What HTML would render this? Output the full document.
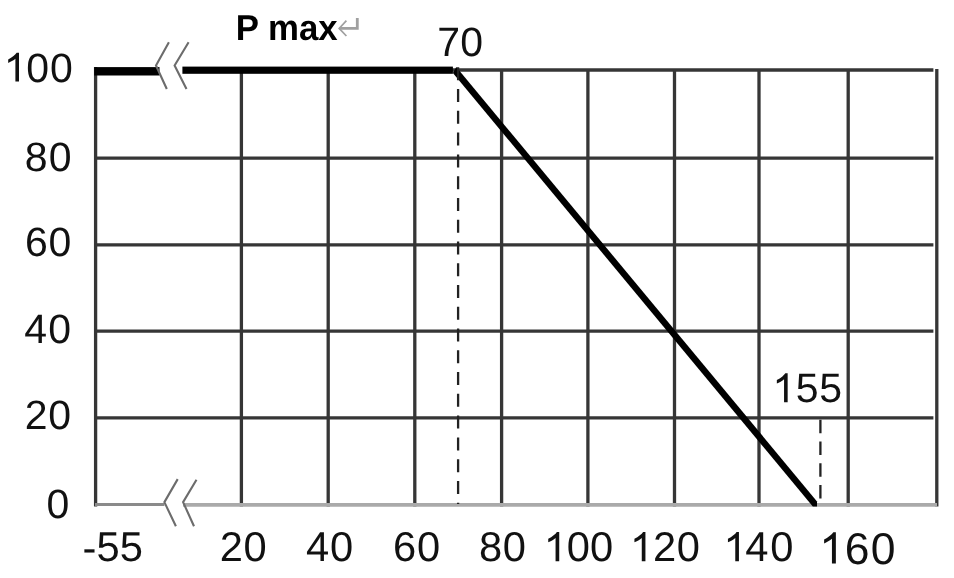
<!DOCTYPE html>
<html><head><meta charset="utf-8">
<style>
html,body{margin:0;padding:0;background:#fff;width:954px;height:578px;overflow:hidden}
svg{display:block;will-change:transform}
text{font-family:"Liberation Sans",sans-serif}
</style></head><body>
<svg width="954" height="578" viewBox="0 0 954 578">
<rect width="954" height="578" fill="#fff"/>
<g>
<g stroke="#363636" stroke-width="3.3" fill="none">
  <line x1="452" y1="70" x2="933.4" y2="70"/>
  <line x1="95" y1="158.2" x2="933.4" y2="158.2"/>
  <line x1="95" y1="244.9" x2="933.4" y2="244.9"/>
  <line x1="95" y1="331.1" x2="933.4" y2="331.1"/>
  <line x1="95" y1="417.9" x2="933.4" y2="417.9"/>
  <line x1="95.6" y1="67" x2="95.6" y2="506.6"/>
  <line x1="241.4" y1="70" x2="241.4" y2="506.6"/>
  <line x1="328.2" y1="70" x2="328.2" y2="506.6"/>
  <line x1="414.8" y1="70" x2="414.8" y2="506.6"/>
  <line x1="501.6" y1="70" x2="501.6" y2="506.6"/>
  <line x1="587.9" y1="70" x2="587.9" y2="506.6"/>
  <line x1="674.5" y1="70" x2="674.5" y2="506.6"/>
  <line x1="759.0" y1="70" x2="759.0" y2="506.6"/>
  <line x1="848.2" y1="70" x2="848.2" y2="506.6"/>
  <line x1="936.8" y1="69" x2="936.8" y2="506.6"/>
</g>
<line x1="95" y1="504.5" x2="164.4" y2="504.5" stroke="#8a8a8a" stroke-width="3"/>
<line x1="183" y1="504.85" x2="937" y2="504.85" stroke="#aaa" stroke-width="3.8"/>
<rect x="94.2" y="67.1" width="65.3" height="8.4" fill="#000"/>
<rect x="182.4" y="66.6" width="270.5" height="7.2" fill="#000"/>
<polygon points="456.3,67 817,501.4 817,506.4 812.8,506.4 452.9,73" fill="#000"/>
<line x1="458.1" y1="67.3" x2="458.1" y2="504" stroke="#222" stroke-width="2.3" stroke-dasharray="13 8.77"/>
<line x1="820.4" y1="419.7" x2="820.4" y2="504" stroke="#222" stroke-width="2.3" stroke-dasharray="13.5 8.3"/>
<g stroke="#6c6c6c" stroke-width="2.1" fill="none" stroke-linejoin="miter">
  <polyline points="168.9,42.3 156,65.5 166.8,89"/>
  <polyline points="188.6,42.3 174.6,65.5 186.5,89"/>
  <polyline points="177.7,479.1 164.4,502.1 175.9,526.3"/>
  <polyline points="196.5,479.7 183.1,502.1 194,526.3"/>
</g>
<g fill="#111" stroke="#fff" stroke-width="0" text-anchor="middle" text-rendering="geometricPrecision">
<path transform="translate(3.73,81.60) scale(0.02002,-0.02002)" d="M763 0L583 0L583 1147Q518 1085 412.5 1023Q307 961 223 930L223 1104Q374 1175 487 1276Q600 1360 647 1440L763 1440Z"/>
<text transform="translate(37.75,81.60)" font-size="41">0</text>
<text transform="translate(61.45,81.60)" font-size="41">0</text>
<text transform="translate(36.20,170.80)" font-size="41">8</text>
<text transform="translate(60.20,170.80)" font-size="41">0</text>
<text transform="translate(36.50,256.10)" font-size="41">6</text>
<text transform="translate(59.95,256.10)" font-size="41">0</text>
<text transform="translate(35.60,343.30)" font-size="41">4</text>
<text transform="translate(59.75,343.30)" font-size="41">0</text>
<text transform="translate(36.20,429.20)" font-size="41">2</text>
<text transform="translate(59.75,429.20)" font-size="41">0</text>
<text transform="translate(57.85,518.30)" font-size="41">0</text>
<text transform="translate(89.35,562.40)" font-size="41.7">-</text>
<text transform="translate(108.20,561.20)" font-size="41.7">5</text>
<text transform="translate(131.40,561.20)" font-size="41.7">5</text>
<text transform="translate(231.45,561.00)" font-size="41.7">2</text>
<text transform="translate(255.15,561.00)" font-size="41.7">0</text>
<text transform="translate(317.50,561.00)" font-size="41.7">4</text>
<text transform="translate(341.55,561.00)" font-size="41.7">0</text>
<text transform="translate(404.50,561.00)" font-size="41.7">6</text>
<text transform="translate(428.65,561.00)" font-size="41.7">0</text>
<text transform="translate(490.50,561.00)" font-size="41.7">8</text>
<text transform="translate(514.25,561.00)" font-size="41.7">0</text>
<path transform="translate(543.70,561.30) scale(0.02036,-0.02036)" d="M763 0L583 0L583 1147Q518 1085 412.5 1023Q307 961 223 930L223 1104Q374 1175 487 1276Q600 1360 647 1440L763 1440Z"/>
<text transform="translate(578.35,561.30)" font-size="41.7">0</text>
<text transform="translate(601.65,561.30)" font-size="41.7">0</text>
<path transform="translate(629.90,561.30) scale(0.02036,-0.02036)" d="M763 0L583 0L583 1147Q518 1085 412.5 1023Q307 961 223 930L223 1104Q374 1175 487 1276Q600 1360 647 1440L763 1440Z"/>
<text transform="translate(664.55,561.30)" font-size="41.7">2</text>
<text transform="translate(688.45,561.30)" font-size="41.7">0</text>
<path transform="translate(723.40,561.30) scale(0.02036,-0.02036)" d="M763 0L583 0L583 1147Q518 1085 412.5 1023Q307 961 223 930L223 1104Q374 1175 487 1276Q600 1360 647 1440L763 1440Z"/>
<text transform="translate(756.75,561.30)" font-size="41.7">4</text>
<text transform="translate(781.95,561.30)" font-size="41.7">0</text>
<path transform="translate(819.28,563.60) scale(0.02173,-0.02173)" d="M763 0L583 0L583 1147Q518 1085 412.5 1023Q307 961 223 930L223 1104Q374 1175 487 1276Q600 1360 647 1440L763 1440Z"/>
<text transform="translate(857.10,563.60)" font-size="44.5">6</text>
<text transform="translate(883.00,563.60)" font-size="44.5">0</text>
<text transform="translate(448.55,56.20)" font-size="41">7</text>
<text transform="translate(471.75,56.20)" font-size="41">0</text>
<path transform="translate(772.38,402.20) scale(0.02002,-0.02002)" d="M763 0L583 0L583 1147Q518 1085 412.5 1023Q307 961 223 930L223 1104Q374 1175 487 1276Q600 1360 647 1440L763 1440Z"/>
<text transform="translate(807.10,402.20)" font-size="41">5</text>
<text transform="translate(830.60,402.20)" font-size="41">5</text>
</g>
<text transform="translate(235.7,40.0) scale(1,1.035)" font-size="34.8" font-weight="bold" fill="#000" text-rendering="geometricPrecision">P max</text>
<g stroke="#a0a0a0" fill="none">
  <polyline points="357.3,17.9 357.3,28.4 339.5,28.4" stroke-width="2.8"/>
  <polyline points="346.4,20.6 339.2,28.4 346.4,36" stroke-width="1.7"/>
</g>
</g>
</svg>
</body></html>
